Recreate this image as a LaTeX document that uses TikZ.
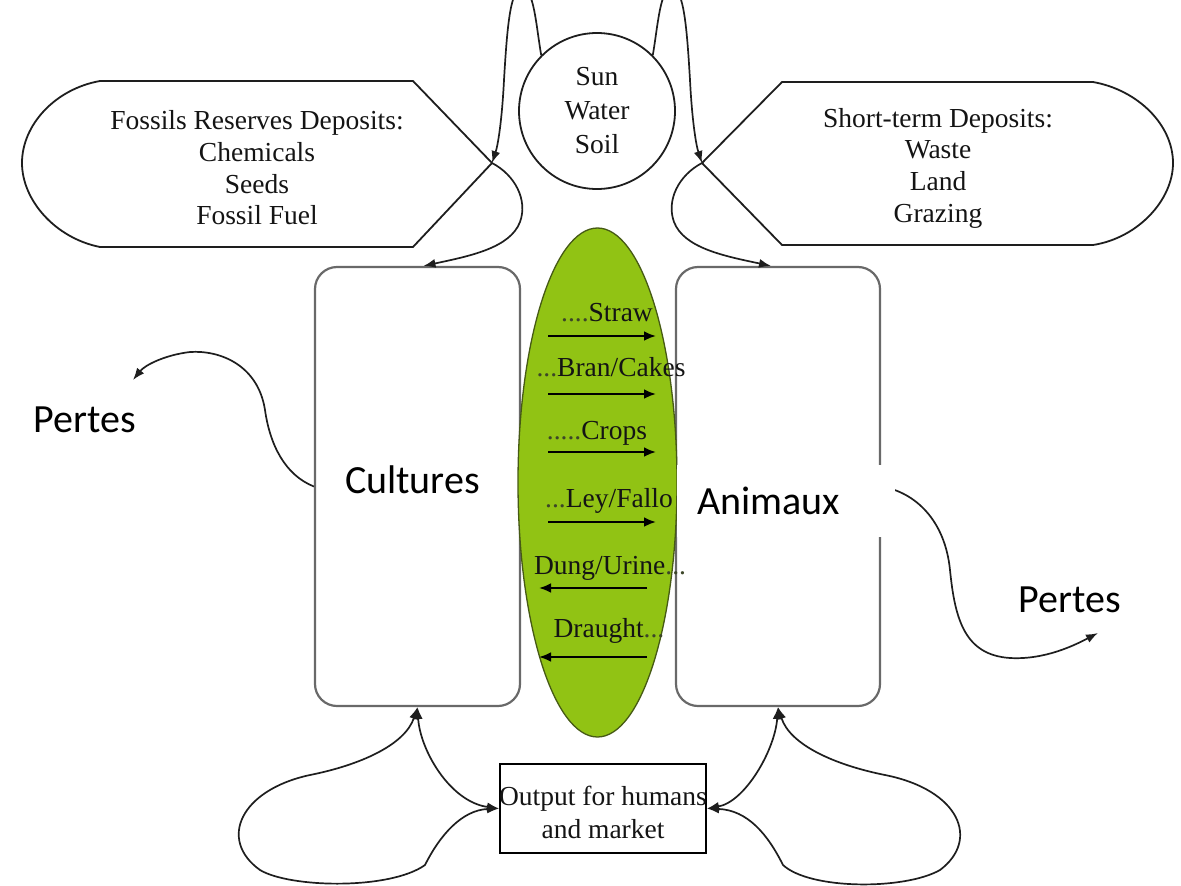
\documentclass[tikz,border=0pt]{standalone}
\usepackage{fontspec}
\setmainfont{Liberation Serif}
\newfontfamily\calibfont{Carlito}
\usetikzlibrary{arrows.meta,shapes.geometric}
\definecolor{limefill}{RGB}{145,195,20}
\definecolor{limeedge}{RGB}{70,90,20}
\definecolor{boxgray}{RGB}{105,105,105}
\definecolor{linegray}{RGB}{30,30,30}
\definecolor{dotgray}{RGB}{60,70,40}
\tikzset{
  serif/.style={font=\fontsize{27.5}{31.7}\selectfont, text=black!92, align=center, inner sep=0pt},
  bigsans/.style={font=\calibfont\fontsize{40}{48}\selectfont, inner sep=0pt},
  depot/.style={draw=linegray, line width=1.8pt, line join=round},
  unit/.style={rectangle, draw=boxgray, line width=2.2pt, rounded corners=22pt, minimum width=205pt, minimum height=439pt, inner sep=0pt},
  link/.style={draw=linegray, line width=1.7pt, -{Latex[length=12pt,width=9pt]}},
  twolink/.style={draw=linegray, line width=1.7pt, {Latex[length=12pt,width=9pt]}-{Latex[length=12pt,width=9pt]}},
  flow/.style={draw=black, line width=2.6pt, -{Latex[length=12pt,width=10pt]}},
  flowlbl/.style={font=\fontsize{27.5}{31.7}\selectfont, text=black!92, anchor=base, inner sep=0pt},
}
\begin{document}
\begin{tikzpicture}[x=1pt,y=-1pt]
\useasboundingbox (0,0) rectangle (1181,886);

% deposits
\draw[depot] (100,81) -- (413,81) -- (492,163) -- (413,247) -- (100,247)
  .. controls (55,238) and (22,200) .. (22,163)
  .. controls (22,125) and (55,89) .. (100,81) -- cycle;
\coordinate (ftip) at (492,163);
\node[serif] (fossils) at (257,168) {Fossils Reserves Deposits:\\Chemicals\\Seeds\\Fossil Fuel};

\draw[depot] (782,82) -- (1093,82)
  .. controls (1138,90) and (1173,125) .. (1173,163)
  .. controls (1173,200) and (1138,238) .. (1093,245) -- (782,245) -- (702,163) -- cycle;
\coordinate (stip) at (702,163);
\node[serif] (shortterm) at (938,168) {Short-term Deposits:\\Waste\\Land\\Grazing};

% sun
\node[circle, draw=linegray, line width=1.8pt, minimum size=156pt, inner sep=0pt,
      font=\fontsize{27.5}{34}\selectfont, align=center, text=black!92] (sun) at (597,111) {Sun\\Water\\Soil};

% units
\node[unit] (cultures) at (417.5,486.5) {};
\node[unit, minimum width=204pt] (animaux) at (778,486.5) {};

% mixing ellipse
\node[ellipse, fill=limefill, draw=limeedge, line width=1.3pt, minimum width=159pt, minimum height=509pt, inner sep=0pt] (mix) at (597.5,482.5) {};

\node[flowlbl] (straw) at (607,321) {{\color{dotgray}....}Straw};
\node[flowlbl] (bran) at (611,376) {{\color{dotgray}...}Bran/Cakes};
\node[flowlbl] (crops) at (597,439) {{\color{dotgray}.....}Crops};
\node[flowlbl] (ley) at (609,507) {{\color{dotgray}...}Ley/Fallo};
\node[flowlbl] (dung) at (610,574) {Dung/Urine{\color{dotgray}...}};
\node[flowlbl] (draught) at (609,637) {Draught{\color{dotgray}...}};

\coordinate (s1) at (548,336); \coordinate (e1) at (656,336);
\coordinate (s2) at (548,394); \coordinate (e2) at (656,394);
\coordinate (s3) at (548,452); \coordinate (e3) at (656,452);
\coordinate (s4) at (548,522); \coordinate (e4) at (656,522);
\coordinate (s5) at (647,588); \coordinate (e5) at (539,588);
\coordinate (s6) at (647,657); \coordinate (e6) at (539,657);
\draw[flow] (s1) -- (e1);
\draw[flow] (s2) -- (e2);
\draw[flow] (s3) -- (e3);
\draw[flow] (s4) -- (e4);
\draw[flow] (s5) -- (e5);
\draw[flow] (s6) -- (e6);

% top loops from sun
\draw[link] (sun.135) .. controls (536,25) and (534,-12) .. (522,-12)
  .. controls (510,-12) and (507,30) .. (504,80)
  .. controls (502,120) and (498,145) .. (ftip);
\draw[link] (sun.45) .. controls (658,25) and (660,-12) .. (672,-12)
  .. controls (684,-12) and (687,30) .. (690,80)
  .. controls (692,120) and (696,145) .. (stip);

% deposits to units
\draw[link] (ftip) .. controls (515,175) and (528,200) .. (520,222)
  .. controls (510,248) and (470,256) .. ([xshift=6pt]cultures.north);
\draw[link] (stip) .. controls (679,175) and (666,200) .. (674,222)
  .. controls (684,248) and (724,256) .. ([xshift=-7pt]animaux.north);

% output
\node[rectangle, draw=black, line width=1.8pt, minimum width=206pt, minimum height=89pt, inner sep=0pt] (output) at (603,808.5) {};
\node[serif, font=\fontsize{27.5}{33}\selectfont] (outtext) at (603,812) {Output for humans\\and market};

% bottom links
\draw[twolink] (cultures.south) .. controls (420,750) and (450,802) .. (output.west);
\draw[twolink] (cultures.south) .. controls (405,745) and (360,765) .. (310,775)
  .. controls (240,790) and (218,840) .. (260,870)
  .. controls (290,888) and (390,890) .. (425,865)
  .. controls (440,835) and (462,810) .. (output.west);
\draw[twolink] (animaux.south) .. controls (775,750) and (745,802) .. (output.east);
\draw[twolink] (animaux.south) .. controls (790,745) and (835,765) .. (885,775)
  .. controls (960,790) and (980,840) .. (940,870)
  .. controls (905,890) and (810,890) .. (783,865)
  .. controls (768,835) and (748,810) .. (output.east);

% losses
\coordinate (lossl) at (133,380);
\coordinate (lossr) at (1098,633);
\draw[link] (cultures.west) .. controls (285,475) and (270,445) .. (265,410)
  .. controls (258,365) and (220,350) .. (190,352)
  .. controls (165,355) and (145,365) .. (lossl);
\draw[link] (animaux.east) .. controls (915,492) and (945,520) .. (950,570)
  .. controls (955,620) and (965,655) .. (1010,658)
  .. controls (1045,660) and (1075,645) .. (lossr);

% labels
\node[bigsans] (pertesl) at (85,420) {Pertes};
\node[bigsans] (pertesr) at (1070,600) {Pertes};
\node[bigsans] (cultlbl) at (412.5,480) {Cultures};
\node[bigsans, fill=white, minimum height=72pt, text width=178pt, align=left, inner xsep=20pt] (animlbl) at (786,501) {Animaux};
\end{tikzpicture}
\end{document}
